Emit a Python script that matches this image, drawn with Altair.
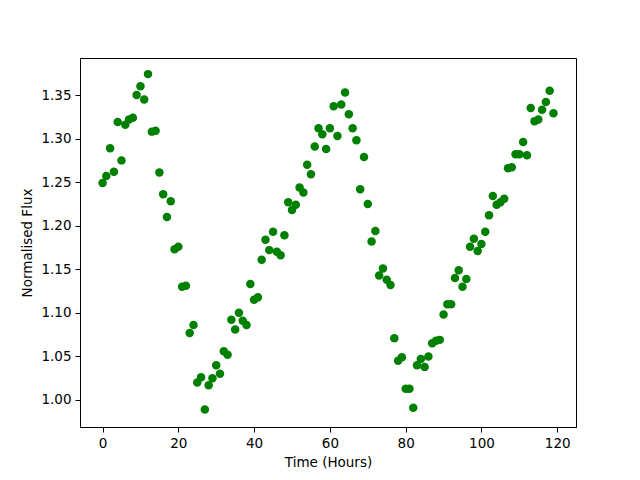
import altair as alt
import pandas as pd

hours = list(range(120))
flux = [
    1.249, 1.257, 1.289, 1.262, 1.319, 1.275, 1.316, 1.322, 1.324, 1.350,
    1.360, 1.345, 1.374, 1.308, 1.309, 1.261, 1.236, 1.210, 1.228, 1.173,
    1.176, 1.130, 1.131, 1.077, 1.086, 1.020, 1.026, 0.989, 1.017, 1.025,
    1.040, 1.030, 1.056, 1.052, 1.092, 1.081, 1.100, 1.091, 1.086, 1.133,
    1.115, 1.118, 1.161, 1.184, 1.172, 1.193, 1.170, 1.166, 1.189, 1.227,
    1.218, 1.224, 1.244, 1.238, 1.270, 1.259, 1.291, 1.312, 1.305, 1.288,
    1.312, 1.337, 1.303, 1.339, 1.353, 1.328, 1.312, 1.298, 1.242, 1.279,
    1.225, 1.182, 1.194, 1.143, 1.151, 1.138, 1.132, 1.071, 1.045, 1.049,
    1.013, 1.013, 0.991, 1.040, 1.047, 1.038, 1.050, 1.065, 1.068, 1.069,
    1.098, 1.110, 1.110, 1.140, 1.149, 1.130, 1.139, 1.176, 1.185, 1.171,
    1.179, 1.193, 1.212, 1.234, 1.224, 1.227, 1.231, 1.266, 1.267, 1.282,
    1.282, 1.296, 1.281, 1.335, 1.320, 1.322, 1.333, 1.342, 1.355, 1.329,
]
x_ticks = [0, 20, 40, 60, 80, 100, 120]
y_ticks = [1.00, 1.05, 1.10, 1.15, 1.20, 1.25, 1.30, 1.35]

df = pd.DataFrame({"hours": hours, "flux": flux})

FONT = "DejaVu Sans"

chart = alt.Chart(df).mark_point(
    filled=True, shape="circle", size=72, color="#008000", opacity=1
).encode(
    x=alt.X("hours:Q",
            scale=alt.Scale(domain=[-5.95, 124.95], nice=False, zero=False),
            axis=alt.Axis(title="Time (Hours)", values=x_ticks, format="d",
                          grid=False)),
    y=alt.Y("flux:Q",
            scale=alt.Scale(domain=[0.969, 1.3925], nice=False, zero=False),
            axis=alt.Axis(title="Normalised Flux", values=y_ticks, format=".2f",
                          grid=False)),
).properties(
    width=496, height=369,
    autosize=alt.AutoSizeParams(type="none"),
    padding={"left": 72, "top": 50, "right": 56, "bottom": 45},
).configure_view(
    stroke="black", strokeWidth=1
).configure_axis(
    domainColor="black", domainWidth=1,
    tickColor="black", tickSize=5, tickWidth=1,
    labelFont=FONT, labelFontSize=13.5, labelColor="black", labelPadding=4,
    titleFont=FONT, titleFontSize=13.5, titleColor="black",
    titleFontWeight="normal", titlePadding=6,
)

chart.save("out.html", embed_options={"renderer": "svg", "actions": False})
